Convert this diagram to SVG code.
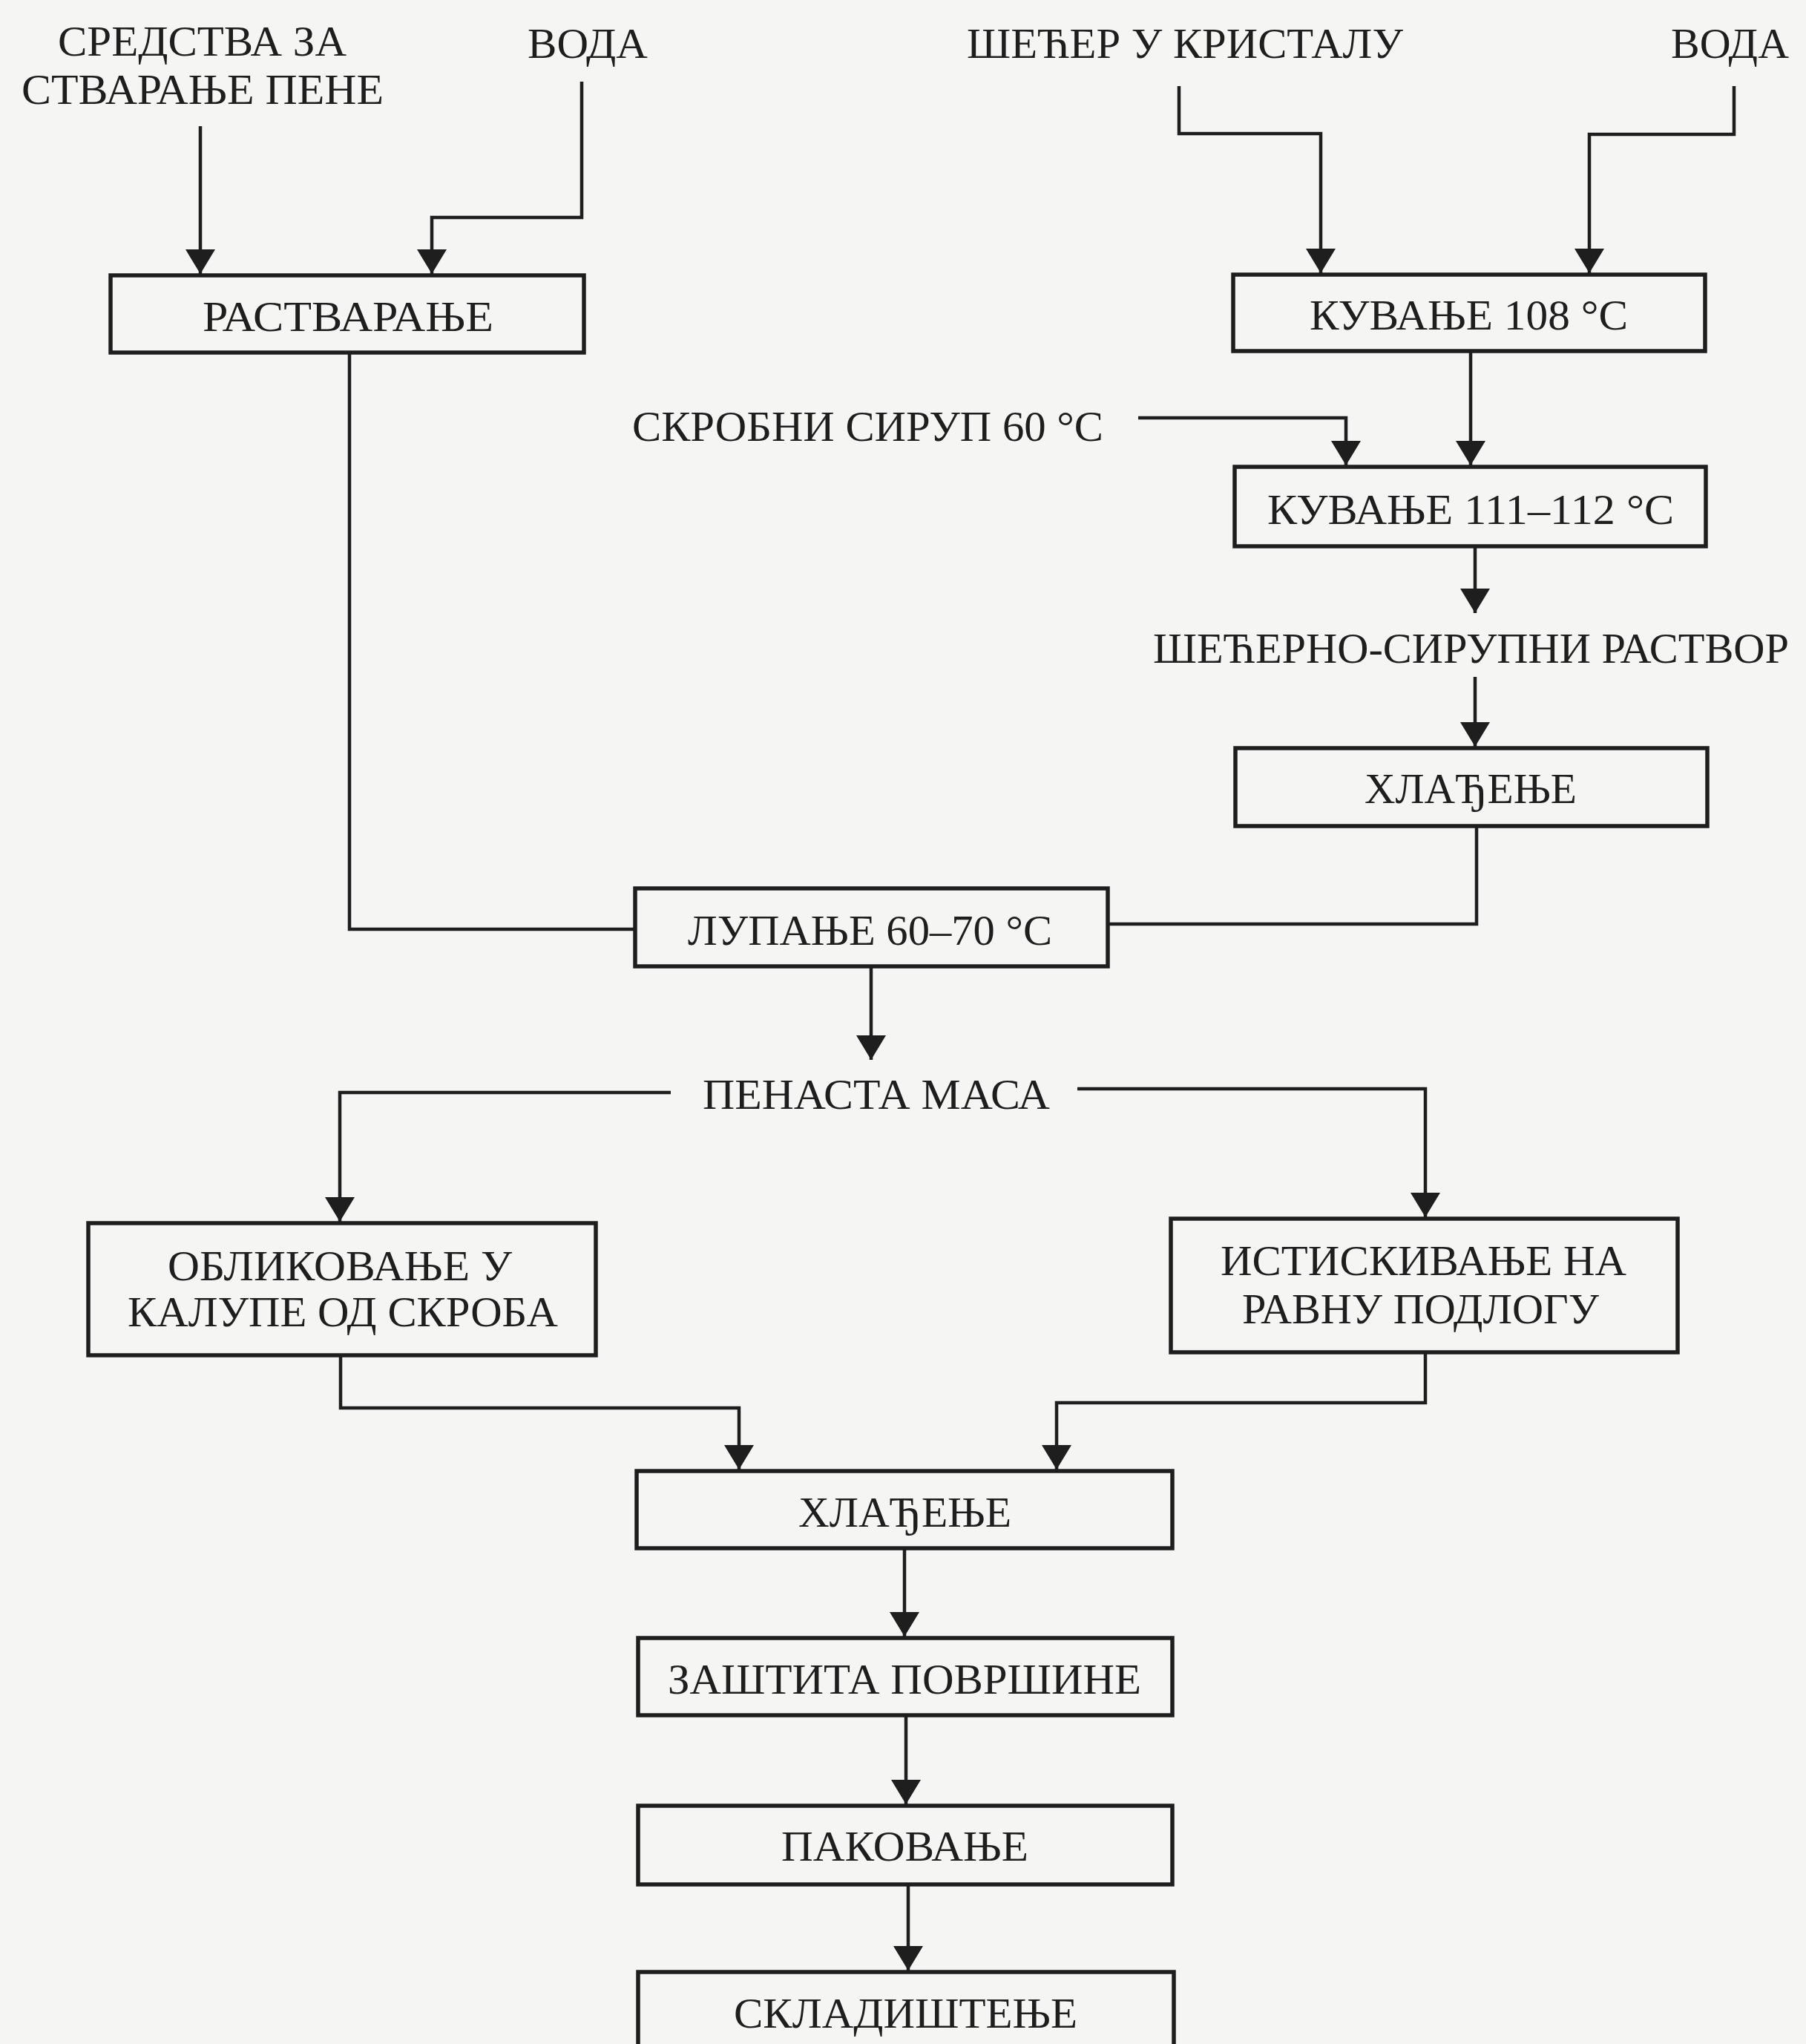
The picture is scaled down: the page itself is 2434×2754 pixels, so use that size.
<svg xmlns="http://www.w3.org/2000/svg" width="2434" height="2754" viewBox="0 0 2434 2754">
<style>
.bg{fill:#f5f5f4}
.box{fill:none;stroke:#1e1e1e;stroke-width:5.5}
.t{font-family:"Liberation Serif","Times New Roman",serif;font-size:58px;fill:#1e1e1e}
.ln{fill:none;stroke:#1e1e1e;stroke-width:4.5}
</style>
<defs>
<marker id="ah" markerUnits="userSpaceOnUse" markerWidth="40" markerHeight="40" viewBox="0 0 28 34" refX="28" refY="17" orient="auto">
<path d="M0,0 L28,17 L0,34 Z" fill="#1e1e1e"/>
</marker>
</defs>
<rect class="bg" x="0" y="0" width="2434" height="2754"/>

<g id="inputs">
<text class="t" x="78" y="75" textLength="389" lengthAdjust="spacingAndGlyphs">СРЕДСТВА ЗА</text>
<text class="t" x="29" y="140" textLength="488" lengthAdjust="spacingAndGlyphs">СТВАРАЊЕ ПЕНЕ</text>
<text class="t" x="711" y="78" textLength="162" lengthAdjust="spacingAndGlyphs">ВОДА</text>
<text class="t" x="1303" y="78" textLength="588" lengthAdjust="spacingAndGlyphs">ШЕЋЕР У КРИСТАЛУ</text>
<text class="t" x="2252" y="78" textLength="159" lengthAdjust="spacingAndGlyphs">ВОДА</text>
<text class="t" x="852" y="594" textLength="635" lengthAdjust="spacingAndGlyphs">СКРОБНИ СИРУП 60 °C</text>
<text class="t" x="1554" y="893" textLength="857" lengthAdjust="spacingAndGlyphs">ШЕЋЕРНО-СИРУПНИ РАСТВОР</text>
<text class="t" x="947" y="1494" textLength="468" lengthAdjust="spacingAndGlyphs">ПЕНАСТА МАСА</text>
</g>

<g id="n-rastvaranje">
<rect class="box" x="149" y="371" width="638" height="104"/>
<text class="t" x="273" y="446" textLength="392" lengthAdjust="spacingAndGlyphs">РАСТВАРАЊЕ</text>
</g>
<g id="n-kuvanje108">
<rect class="box" x="1662" y="370" width="636" height="103"/>
<text class="t" x="1765" y="444" textLength="429" lengthAdjust="spacingAndGlyphs">КУВАЊЕ 108 °C</text>
</g>
<g id="n-kuvanje111">
<rect class="box" x="1664" y="629" width="635" height="107"/>
<text class="t" x="1708" y="706" textLength="548" lengthAdjust="spacingAndGlyphs">КУВАЊЕ 111–112 °C</text>
</g>
<g id="n-hladjenje1">
<rect class="box" x="1665" y="1008" width="636" height="105"/>
<text class="t" x="1839" y="1082" textLength="286" lengthAdjust="spacingAndGlyphs">ХЛАЂЕЊЕ</text>
</g>
<g id="n-lupanje">
<rect class="box" x="856" y="1197" width="637" height="105"/>
<text class="t" x="927" y="1273" textLength="491" lengthAdjust="spacingAndGlyphs">ЛУПАЊЕ 60–70 °C</text>
</g>
<g id="n-oblikovanje">
<rect class="box" x="119" y="1648" width="684" height="178"/>
<text class="t" x="226" y="1725" textLength="464" lengthAdjust="spacingAndGlyphs">ОБЛИКОВАЊЕ У</text>
<text class="t" x="172" y="1787" textLength="580" lengthAdjust="spacingAndGlyphs">КАЛУПЕ ОД СКРОБА</text>
</g>
<g id="n-istiskivanje">
<rect class="box" x="1578" y="1642" width="683" height="180"/>
<text class="t" x="1645" y="1718" textLength="547" lengthAdjust="spacingAndGlyphs">ИСТИСКИВАЊЕ НА</text>
<text class="t" x="1674" y="1783" textLength="481" lengthAdjust="spacingAndGlyphs">РАВНУ ПОДЛОГУ</text>
</g>
<g id="n-hladjenje2">
<rect class="box" x="858" y="1982" width="722" height="104"/>
<text class="t" x="1076" y="2057" textLength="287" lengthAdjust="spacingAndGlyphs">ХЛАЂЕЊЕ</text>
</g>
<g id="n-zastita">
<rect class="box" x="860" y="2207" width="720" height="104"/>
<text class="t" x="900" y="2282" textLength="638" lengthAdjust="spacingAndGlyphs">ЗАШТИТА ПОВРШИНЕ</text>
</g>
<g id="n-pakovanje">
<rect class="box" x="860" y="2433" width="720" height="106"/>
<text class="t" x="1053" y="2507" textLength="333" lengthAdjust="spacingAndGlyphs">ПАКОВАЊЕ</text>
</g>
<g id="n-skladistenje">
<rect class="box" x="860" y="2657" width="722" height="140"/>
<text class="t" x="989" y="2732" textLength="463" lengthAdjust="spacingAndGlyphs">СКЛАДИШТЕЊЕ</text>
</g>

<g id="connectors">
<path class="ln" d="M270,170 V369" marker-end="url(#ah)"/>
<path class="ln" d="M784,110 V293 H582 V369" marker-end="url(#ah)"/>
<path class="ln" d="M1589,116 V180 H1780 V368" marker-end="url(#ah)"/>
<path class="ln" d="M2337,116 V181 H2142 V368" marker-end="url(#ah)"/>
<path class="ln" d="M1982,473 V627" marker-end="url(#ah)"/>
<path class="ln" d="M1534,563 H1814 V627" marker-end="url(#ah)"/>
<path class="ln" d="M1988,736 V826" marker-end="url(#ah)"/>
<path class="ln" d="M1988,912 V1006" marker-end="url(#ah)"/>
<path class="ln" d="M1990,1113 V1245 H1493"/>
<path class="ln" d="M471,475 V1252 H856"/>
<path class="ln" d="M1174,1302 V1428" marker-end="url(#ah)"/>
<path class="ln" d="M904,1472 H458 V1646" marker-end="url(#ah)"/>
<path class="ln" d="M1452,1467 H1921 V1640" marker-end="url(#ah)"/>
<path class="ln" d="M459,1826 V1897 H996 V1980" marker-end="url(#ah)"/>
<path class="ln" d="M1921,1822 V1890 H1424 V1980" marker-end="url(#ah)"/>
<path class="ln" d="M1219,2086 V2205" marker-end="url(#ah)"/>
<path class="ln" d="M1221,2311 V2431" marker-end="url(#ah)"/>
<path class="ln" d="M1224,2539 V2655" marker-end="url(#ah)"/>
</g>
</svg>
